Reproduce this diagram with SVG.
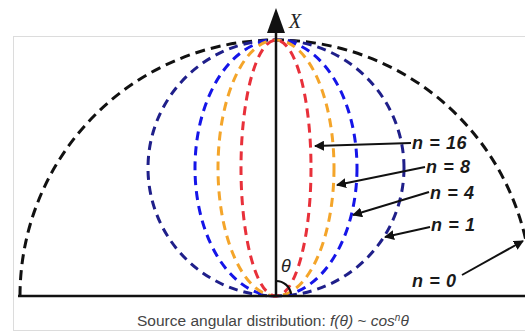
<svg xmlns="http://www.w3.org/2000/svg" width="525" height="333" viewBox="0 0 525 333">
<style>
.c{fill:none;stroke-width:3;stroke-dasharray:9 6}
.lbl{font-family:"Liberation Sans",Arial,sans-serif;font-weight:bold;font-style:italic;font-size:18px;fill:#1a1a1a;letter-spacing:0.6px}
.ar{stroke:#111;stroke-width:2;fill:none;marker-end:url(#ah)}
</style>
<defs>
<marker id="ah" viewBox="0 0 10 10" refX="9" refY="5" markerWidth="5" markerHeight="5" orient="auto" markerUnits="strokeWidth">
<path d="M0,0 L10,5 L0,10 z" fill="#111"/>
</marker>
</defs>
<rect x="13.5" y="36.5" width="530" height="294" fill="#fff" stroke="#dcdcdc" stroke-width="1"/>
<g id="curve-n0"><path class="c" d="M20,296 A256,256 0 0 1 532,296" stroke="#111" style="stroke-dasharray:10 6"/></g>
<g id="curve-n1"><ellipse class="c" cx="276" cy="168" rx="128" ry="128" stroke="#1f1f8a"/></g>
<g id="curve-n4"><ellipse class="c" cx="276" cy="168" rx="81" ry="128" stroke="#1515e8"/></g>
<g id="curve-n8"><ellipse class="c" cx="276" cy="168" rx="58" ry="128" stroke="#f4a52a"/></g>
<g id="curve-n16"><ellipse class="c" cx="276" cy="168" rx="35" ry="128" stroke="#e8303a"/></g>
<g id="axes">
<line x1="18" y1="296" x2="525" y2="296" stroke="#111" stroke-width="2.5"/>
<line x1="276" y1="297" x2="276" y2="30" stroke="#111" stroke-width="2.5"/>
<path d="M276,8 L267,33 L285,33 z" fill="#111"/>
<text x="289" y="28" font-family="Liberation Serif,serif" font-style="italic" font-size="20" fill="#222">X</text>
<path d="M276,281 A15,15 0 0 1 291,294" fill="none" stroke="#111" stroke-width="2.2"/>
<text x="281" y="272" font-family="Liberation Sans,Arial,sans-serif" font-style="italic" font-size="18" fill="#222">θ</text>
</g>
<g id="labels">
<text class="lbl" x="412" y="149">n = 16</text>
<text class="lbl" x="426" y="173">n = 8</text>
<text class="lbl" x="430" y="199">n = 4</text>
<text class="lbl" x="431" y="231">n = 1</text>
<text class="lbl" x="412" y="287">n = 0</text>
</g>
<g id="connectors">
<line class="ar" x1="411" y1="143" x2="315" y2="146"/>
<line class="ar" x1="425" y1="167" x2="337" y2="185"/>
<line class="ar" x1="429" y1="192" x2="353" y2="215"/>
<line class="ar" x1="430" y1="227" x2="385" y2="237"/>
<line class="ar" x1="462" y1="275" x2="523" y2="241"/>
</g>
<g id="caption">
<text x="137" y="326" font-family="Liberation Sans,Arial,sans-serif" font-size="15.5" fill="#444">Source angular distribution: <tspan font-style="italic">f(θ) ~ cos</tspan><tspan font-style="italic" font-size="10" dy="-5">n</tspan><tspan font-style="italic" dy="5">θ</tspan></text>
</g>
</svg>
